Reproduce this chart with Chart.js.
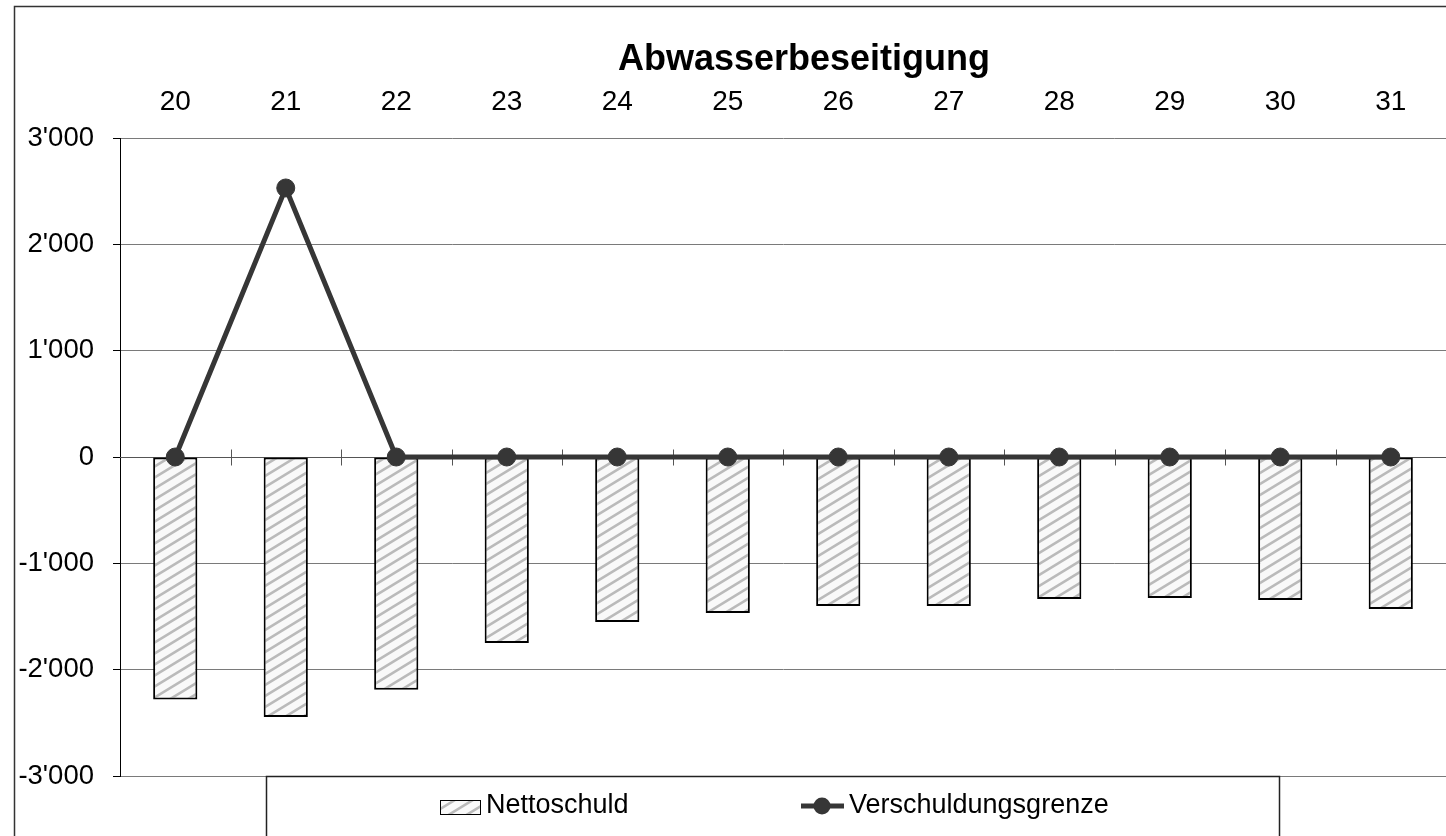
<!DOCTYPE html>
<html>
<head>
<meta charset="utf-8">
<script src="https://cdn.jsdelivr.net/npm/chart.js@4/dist/chart.umd.min.js"></script>
<style>
  html, body { margin: 0; padding: 0; background: #fff; overflow: hidden; }
</style>
</head>
<body>
<canvas id="chart" width="1446" height="836"></canvas>
<script>
// Daten
const jahre = ['20', '21', '22', '23', '24', '25', '26', '27', '28', '29', '30', '31'];
const nettoschuld = [-2280, -2445, -2190, -1750, -1552, -1468, -1402, -1402, -1336, -1326, -1345, -1430];
const verschuldungsgrenze = [0, 2530, 0, 0, 0, 0, 0, 0, 0, 0, 0, 0];
const titel = 'Abwasserbeseitigung';

const schrift = '"Liberation Sans", Arial, sans-serif';
const linienFarbe = '#363636';

// Schraffur: schraege Streifen nach rechts oben
function schraffur() {
  const w = 18, h = 11;
  const c = document.createElement('canvas');
  c.width = w; c.height = h;
  const g = c.getContext('2d');
  g.fillStyle = '#f9f9f9';
  g.fillRect(0, 0, w, h);
  g.strokeStyle = '#bababa';
  g.lineWidth = 2.6;
  g.beginPath();
  for (let k = 0; k <= 2; k++) {
    g.moveTo(-w * 0.5, h * (k + 0.5));
    g.lineTo(w * (k + 0.5), -h * 0.5);
  }
  g.stroke();
  return g.createPattern(c, 'repeat');
}

const ctx = document.getElementById('chart').getContext('2d');
const muster = schraffur();

function tausender(v) {
  const s = String(Math.abs(v)).replace(/\B(?=(\d{3})+(?!\d))/g, "'");
  return (v < 0 ? '-' : '') + s;
}

const rahmenPlugin = {
  id: 'rahmen',
  beforeDraw(chart) {
    const c = chart.ctx;
    c.save();
    c.fillStyle = '#fff';
    c.fillRect(0, 0, chart.width, chart.height);
    c.restore();
  },
  beforeDatasetsDraw(chart) {
    // Kategorienachse auf der Nulllinie mit Teilstrichen
    const c = chart.ctx;
    const x = chart.scales.x;
    const y0 = Math.round(chart.scales.y.getPixelForValue(0)) + 0.5;
    c.save();
    c.strokeStyle = '#555';
    c.lineWidth = 1;
    c.beginPath();
    c.moveTo(chart.chartArea.left, y0);
    c.lineTo(chart.chartArea.right, y0);
    for (let i = 1; i < jahre.length; i++) {
      const px = Math.round((x.getPixelForValue(i - 1) + x.getPixelForValue(i)) / 2) + 0.5;
      c.moveTo(px, y0 - 8);
      c.lineTo(px, y0 + 8);
    }
    c.stroke();
    c.restore();
  },
  afterDraw(chart) {
    const c = chart.ctx;
    const ds = chart.data.datasets;
    c.save();
    // Aussenrahmen
    c.strokeStyle = '#333';
    c.lineWidth = 1.5;
    c.strokeRect(14.5, 6.5, chart.width + 20, chart.height + 20);

    // Titel
    c.fillStyle = '#000';
    c.font = 'bold 36px ' + schrift;
    c.textAlign = 'center';
    c.textBaseline = 'alphabetic';
    c.fillText(titel, 804, 70);

    // Legende
    c.strokeStyle = '#222';
    c.lineWidth = 1.5;
    c.strokeRect(266.5, 776.5, 1013, 100);

    const ly = 806;
    c.fillStyle = muster;
    c.fillRect(440, 800, 40, 14);
    c.strokeStyle = '#000';
    c.lineWidth = 1;
    c.strokeRect(440.5, 800.5, 40, 14);

    c.fillStyle = '#000';
    c.font = '27px ' + schrift;
    c.textAlign = 'left';
    c.textBaseline = 'middle';
    c.fillText(ds[0].label, 486, ly);

    c.strokeStyle = linienFarbe;
    c.lineWidth = 5;
    c.beginPath();
    c.moveTo(801, ly);
    c.lineTo(844, ly);
    c.stroke();
    c.fillStyle = linienFarbe;
    c.beginPath();
    c.arc(822, ly, 8.5, 0, Math.PI * 2);
    c.fill();

    c.fillStyle = '#000';
    c.fillText(ds[1].label, 849, ly);
    c.restore();
  }
};

new Chart(ctx, {
  type: 'bar',
  data: {
    labels: jahre,
    datasets: [
      {
        label: 'Nettoschuld',
        data: nettoschuld,
        backgroundColor: muster,
        borderColor: '#000',
        borderWidth: 2,
        borderSkipped: false,
        categoryPercentage: 1,
        barPercentage: 0.4,
        order: 2
      },
      {
        type: 'line',
        label: 'Verschuldungsgrenze',
        data: verschuldungsgrenze,
        borderColor: linienFarbe,
        backgroundColor: linienFarbe,
        borderWidth: 5,
        tension: 0,
        fill: false,
        pointRadius: 9,
        pointBorderWidth: 1,
        pointBackgroundColor: linienFarbe,
        pointBorderColor: linienFarbe,
        order: 1
      }
    ]
  },
  options: {
    responsive: false,
    animation: false,
    events: [],
    layout: { autoPadding: false, padding: { top: 0, left: 0, right: 0, bottom: 60 } },
    plugins: {
      legend: { display: false },
      title: { display: false },
      tooltip: { enabled: false }
    },
    scales: {
      x: {
        position: 'top',
        grid: { display: false, drawTicks: false },
        border: { display: false },
        ticks: { padding: 19, color: '#000', font: { size: 28, family: schrift } },
        afterFit: (scale) => { scale.height = 138; }
      },
      y: {
        min: -3000,
        max: 3000,
        ticks: {
          stepSize: 1000,
          padding: 19,
          color: '#000',
          font: { size: 27.5, family: schrift },
          callback: (v) => tausender(v)
        },
        grid: { color: '#7a7a7a', tickColor: '#000', tickLength: 7, lineWidth: 1 },
        border: { color: '#000', width: 1 },
        afterFit: (scale) => { scale.width = 120; }
      }
    }
  },
  plugins: [rahmenPlugin]
});
</script>
</body>
</html>
